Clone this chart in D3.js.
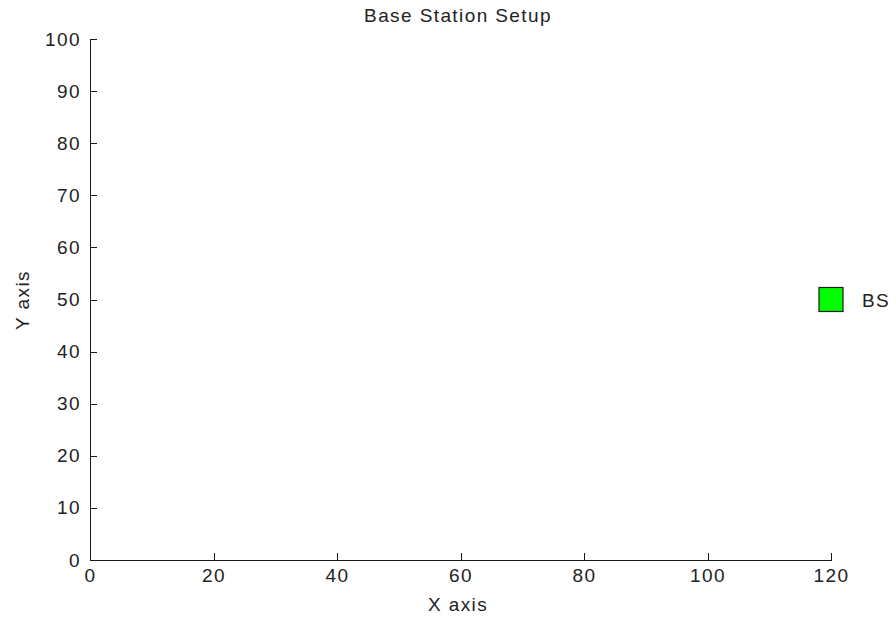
<!DOCTYPE html>
<html>
<head>
<meta charset="utf-8">
<script src="https://cdn.jsdelivr.net/npm/d3@7"></script>
<style>
    body { margin: 0; background: #fff; }
    svg { display: block; }
    text { font-family: "Liberation Sans", Arial, sans-serif; fill: #222; letter-spacing: 1.4px; }
    .axis path, .axis line { stroke: #1a1a1a; stroke-width: 1; shape-rendering: crispEdges; }
    .axis text { font-size: 19px; }
</style>
</head>
<body>
<svg width="896" height="617"></svg>
<script>
// base station positions
var bs_x = [120];
var bs_y = [50];
var bs_labels = ["BS"];

var x_ticks = [0, 20, 40, 60, 80, 100, 120];
var y_ticks = [0, 10, 20, 30, 40, 50, 60, 70, 80, 90, 100];

var svg = d3.select("svg");

var left = 90,
    right = 831,
    top_y = 39,
    bottom = 560,
    tick_len = 7;

var x = d3.scaleLinear().domain([0, 120]).range([left, right]);
var y = d3.scaleLinear().domain([0, 100]).range([bottom, top_y]);

// axes, ticks point inside like matlab
svg.append("g")
    .attr("class", "axis")
    .attr("transform", "translate(0," + bottom + ")")
    .call(d3.axisBottom(x).tickValues(x_ticks).tickSizeInner(-tick_len).tickSizeOuter(0).tickPadding(9));

svg.append("g")
    .attr("class", "axis")
    .attr("transform", "translate(" + left + ",0)")
    .call(d3.axisLeft(y).tickValues(y_ticks).tickSizeInner(-tick_len).tickSizeOuter(0).tickPadding(9));

svg.selectAll(".axis .domain").attr("fill", "none");

// title + axis labels
svg.append("text")
    .attr("x", 458)
    .attr("y", 22)
    .attr("text-anchor", "middle")
    .style("font-size", "19px")
    .text("Base Station Setup");

svg.append("text")
    .attr("x", 458)
    .attr("y", 611)
    .attr("text-anchor", "middle")
    .style("font-size", "19px")
    .text("X axis");

svg.append("text")
    .attr("transform", "translate(29,300) rotate(-90)")
    .attr("text-anchor", "middle")
    .style("font-size", "19px")
    .text("Y axis");

// base station markers
var sq = 24;
var bs = svg.append("g").selectAll("g")
    .data(bs_x.map(function(d, i) { return {x: d, y: bs_y[i], label: bs_labels[i]}; }))
    .enter().append("g");

bs.append("rect")
    .attr("x", function(d) { return x(d.x) - sq / 2; })
    .attr("y", function(d) { return y(d.y) - sq / 2; })
    .attr("width", sq)
    .attr("height", sq)
    .attr("fill", "#00ff00")
    .attr("stroke", "#1a1a1a")
    .attr("stroke-width", 1.2);

bs.append("text")
    .attr("x", function(d) { return x(d.x) + 31; })
    .attr("y", function(d) { return y(d.y) + 7; })
    .style("font-size", "19px")
    .text(function(d) { return d.label; });
</script>
</body>
</html>
